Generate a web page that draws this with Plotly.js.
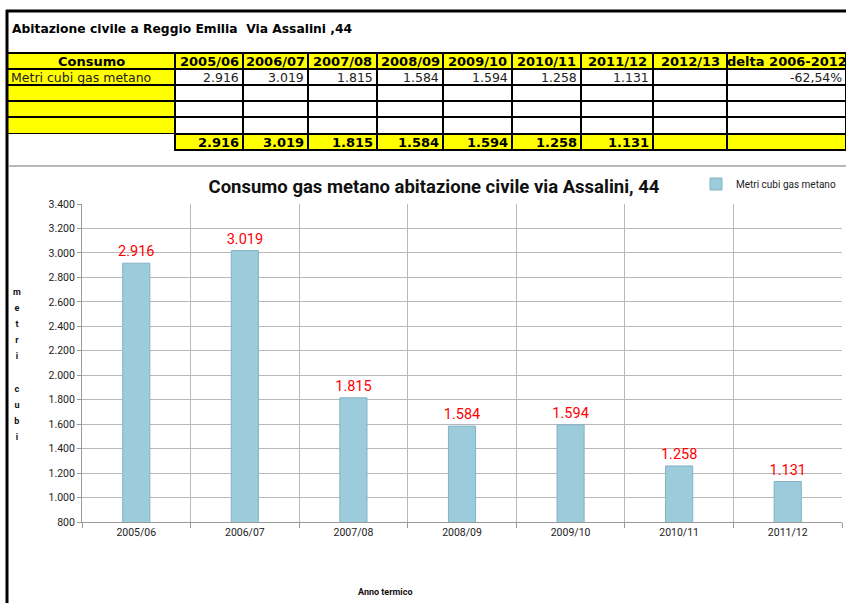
<!DOCTYPE html>
<html>
<head>
<meta charset="utf-8">
<script src="https://cdn.plot.ly/plotly-3.0.1.min.js"></script>
<style>
  html, body { margin: 0; padding: 0; background: #ffffff; }
  #chart { width: 846px; height: 603px; }
</style>
</head>
<body>
<div id="chart"></div>
<script>
// ---------------- data ----------------
const sheetTitle = 'Abitazione civile a Reggio Emilia\u00a0\u00a0Via Assalini ,44';
const chartTitle = 'Consumo gas metano abitazione civile via Assalini, 44';
const rowHeaderLabel = 'Consumo';
const seriesName = 'Metri cubi gas metano';
const years = ['2005/06', '2006/07', '2007/08', '2008/09', '2009/10', '2010/11', '2011/12'];
const tableYears = ['2005/06', '2006/07', '2007/08', '2008/09', '2009/10', '2010/11', '2011/12', '2012/13'];
const gasM3 = [2916, 3019, 1815, 1584, 1594, 1258, 1131];
const deltaLabel = 'delta 2006-2012';
const deltaText = '-62,54%';
const xAxisTitle = 'Anno termico';
const yAxisTitle = 'metri cubi';

// ---------------- helpers ----------------
const fmtIt = n => String(n).replace(/\B(?=(\d{3})+(?!\d))/g, '.');
const YELLOW = '#ffff00';
const WHITE = '#ffffff';
const W = 846, H = 603;
const px = x => x / W;
const py = y => 1 - y / H;

// ---------------- spreadsheet table (layout geometry) ----------------
const colEdges = [7, 175, 243, 308, 377, 443, 512, 581, 653, 727, 846];
const rowEdges = [53, 69, 85, 101, 117, 134, 150];

// table content: rows x columns
const headerRow = [rowHeaderLabel].concat(tableYears).concat([deltaLabel]);
const bodyRows = [];
bodyRows.push([seriesName].concat(tableYears.map((y, i) => i < gasM3.length ? fmtIt(gasM3[i]) : '')).concat([deltaText]));
for (let k = 0; k < 3; k++) bodyRows.push(headerRow.map(() => ''));
bodyRows.push([''].concat(tableYears.map((y, i) => i < gasM3.length ? fmtIt(gasM3[i]) : '')).concat(['']));

const shapes = [];
const annotations = [];

function cellRect(c, r, fill, border) {
  shapes.push({
    type: 'rect', xref: 'paper', yref: 'paper', layer: 'below',
    x0: px(colEdges[c]), x1: px(colEdges[c + 1]),
    y0: py(rowEdges[r + 1]), y1: py(rowEdges[r]),
    fillcolor: fill,
    line: { color: border ? '#000000' : 'rgba(0,0,0,0)', width: border ? 2 : 0 }
  });
}
function cellText(c, r, text, align, bold, size) {
  if (!text) return;
  const xl = colEdges[c], xr = colEdges[c + 1];
  let x, xanchor;
  if (align === 'left') { x = xl + 2; xanchor = 'left'; }
  else if (align === 'right') { x = xr - 2; xanchor = 'right'; }
  else { x = (xl + xr) / 2; xanchor = 'center'; }
  annotations.push({
    text: bold ? '<b>' + text + '</b>' : text,
    xref: 'paper', yref: 'paper', showarrow: false,
    x: px(x), y: py((rowEdges[r] + rowEdges[r + 1]) / 2 + 0.5),
    xanchor: xanchor, yanchor: 'middle',
    font: { family: 'DejaVu Sans', size: size, color: bold ? '#000' : '#222' }
  });
}

const nCols = colEdges.length - 1;
// header row
for (let c = 0; c < nCols; c++) {
  cellRect(c, 0, YELLOW, true);
  cellText(c, 0, headerRow[c], 'center', true, 13);
}
// body rows
bodyRows.forEach((row, ri) => {
  const r = ri + 1;
  const isTotal = ri === bodyRows.length - 1;
  for (let c = 0; c < nCols; c++) {
    let fill, border = true;
    if (c === 0) { fill = isTotal ? WHITE : YELLOW; border = !isTotal; }
    else fill = isTotal ? YELLOW : WHITE;
    cellRect(c, r, fill, border);
    cellText(c, r, row[c], c === 0 ? 'left' : 'right', isTotal, isTotal ? 13 : 12.5);
  }
});

// ---------------- bar chart ----------------
const barTrace = {
  type: 'bar',
  name: seriesName,
  x: years,
  y: gasM3,
  width: 0.25,
  marker: { color: '#9ccbdc', line: { color: '#83b3c5', width: 1 } },
  texttemplate: '%{y:,}',
  textposition: 'outside',
  constraintext: 'none',
  textfont: { family: 'Roboto', size: 14.5, color: '#ff0000' },
  cliponaxis: false,
  hoverinfo: 'x+y'
};

const yTitleHtml = yAxisTitle.split('').map(ch => ch === ' ' ? ' ' : '<span style="font-size:9px"><b>' + ch + '</b></span>').join('<br>');

annotations.push(
  {
    text: '<b>' + sheetTitle + '</b>', xref: 'paper', yref: 'paper',
    x: px(10), y: py(29), xanchor: 'left', yanchor: 'middle', showarrow: false,
    font: { family: 'DejaVu Sans', size: 12.3, color: '#000' }
  },
  {
    text: yTitleHtml, xref: 'paper', yref: 'paper',
    x: px(17), y: py(364), xanchor: 'center', yanchor: 'middle', showarrow: false,
    font: { family: 'Roboto', size: 12.4, color: '#111' }
  },
  {
    text: '<b>' + xAxisTitle + '</b>', xref: 'paper', yref: 'paper',
    x: px(385), y: py(592), xanchor: 'center', yanchor: 'middle', showarrow: false,
    font: { family: 'Roboto', size: 9, color: '#111' }
  }
);

shapes.push(
  // spreadsheet frame
  { type: 'line', xref: 'paper', yref: 'paper', x0: px(7), x1: px(7), y0: 0, y1: py(10), line: { color: '#000', width: 3 } },
  { type: 'line', xref: 'paper', yref: 'paper', x0: px(6), x1: 1, y0: py(11), y1: py(11), line: { color: '#000', width: 3 } },
  // chart area top border
  { type: 'line', xref: 'paper', yref: 'paper', x0: px(9), x1: 1, y0: py(166), y1: py(166), line: { color: '#a0a0a0', width: 1.5 } }
);

const layout = {
  width: W,
  height: H,
  margin: { l: 0, r: 0, t: 0, b: 0, pad: 0 },
  paper_bgcolor: '#ffffff',
  plot_bgcolor: '#ffffff',
  separators: ',.',
  font: { family: 'Roboto', size: 11, color: '#333' },
  showlegend: true,
  legend: {
    x: px(696), y: py(184), xanchor: 'left', yanchor: 'middle',
    font: { family: 'Roboto', size: 10, color: '#222' },
    bgcolor: 'rgba(0,0,0,0)'
  },
  title: {
    text: '<b>' + chartTitle + '</b>',
    font: { family: 'Roboto', size: 18.5, color: '#111' },
    x: px(434), xanchor: 'center', xref: 'paper',
    y: py(187), yanchor: 'middle', yref: 'container'
  },
  xaxis: {
    domain: [px(82), px(842)],
    type: 'category',
    range: [-0.5, 6.5],
    tickson: 'boundaries',
    ticks: 'outside', ticklen: 5, tickcolor: '#9a9a9a',
    showgrid: true, gridcolor: '#b8b8b8', gridwidth: 1,
    showline: true, linecolor: '#9a9a9a', linewidth: 1,
    tickfont: { family: 'Roboto', size: 10.5, color: '#222' },
    fixedrange: true
  },
  yaxis: {
    domain: [py(522), py(204)],
    range: [800, 3400],
    tick0: 800, dtick: 200,
    tickformat: ',d',
    ticks: 'outside', ticklen: 4, tickcolor: '#9a9a9a',
    showgrid: true, gridcolor: '#b8b8b8', gridwidth: 1,
    showline: true, linecolor: '#9a9a9a', linewidth: 1,
    zeroline: false,
    tickfont: { family: 'Roboto', size: 10.5, color: '#222' },
    fixedrange: true
  },
  annotations: annotations,
  shapes: shapes
};

Plotly.newPlot('chart', [barTrace], layout, { staticPlot: true, displayModeBar: false });
</script>
</body>
</html>
